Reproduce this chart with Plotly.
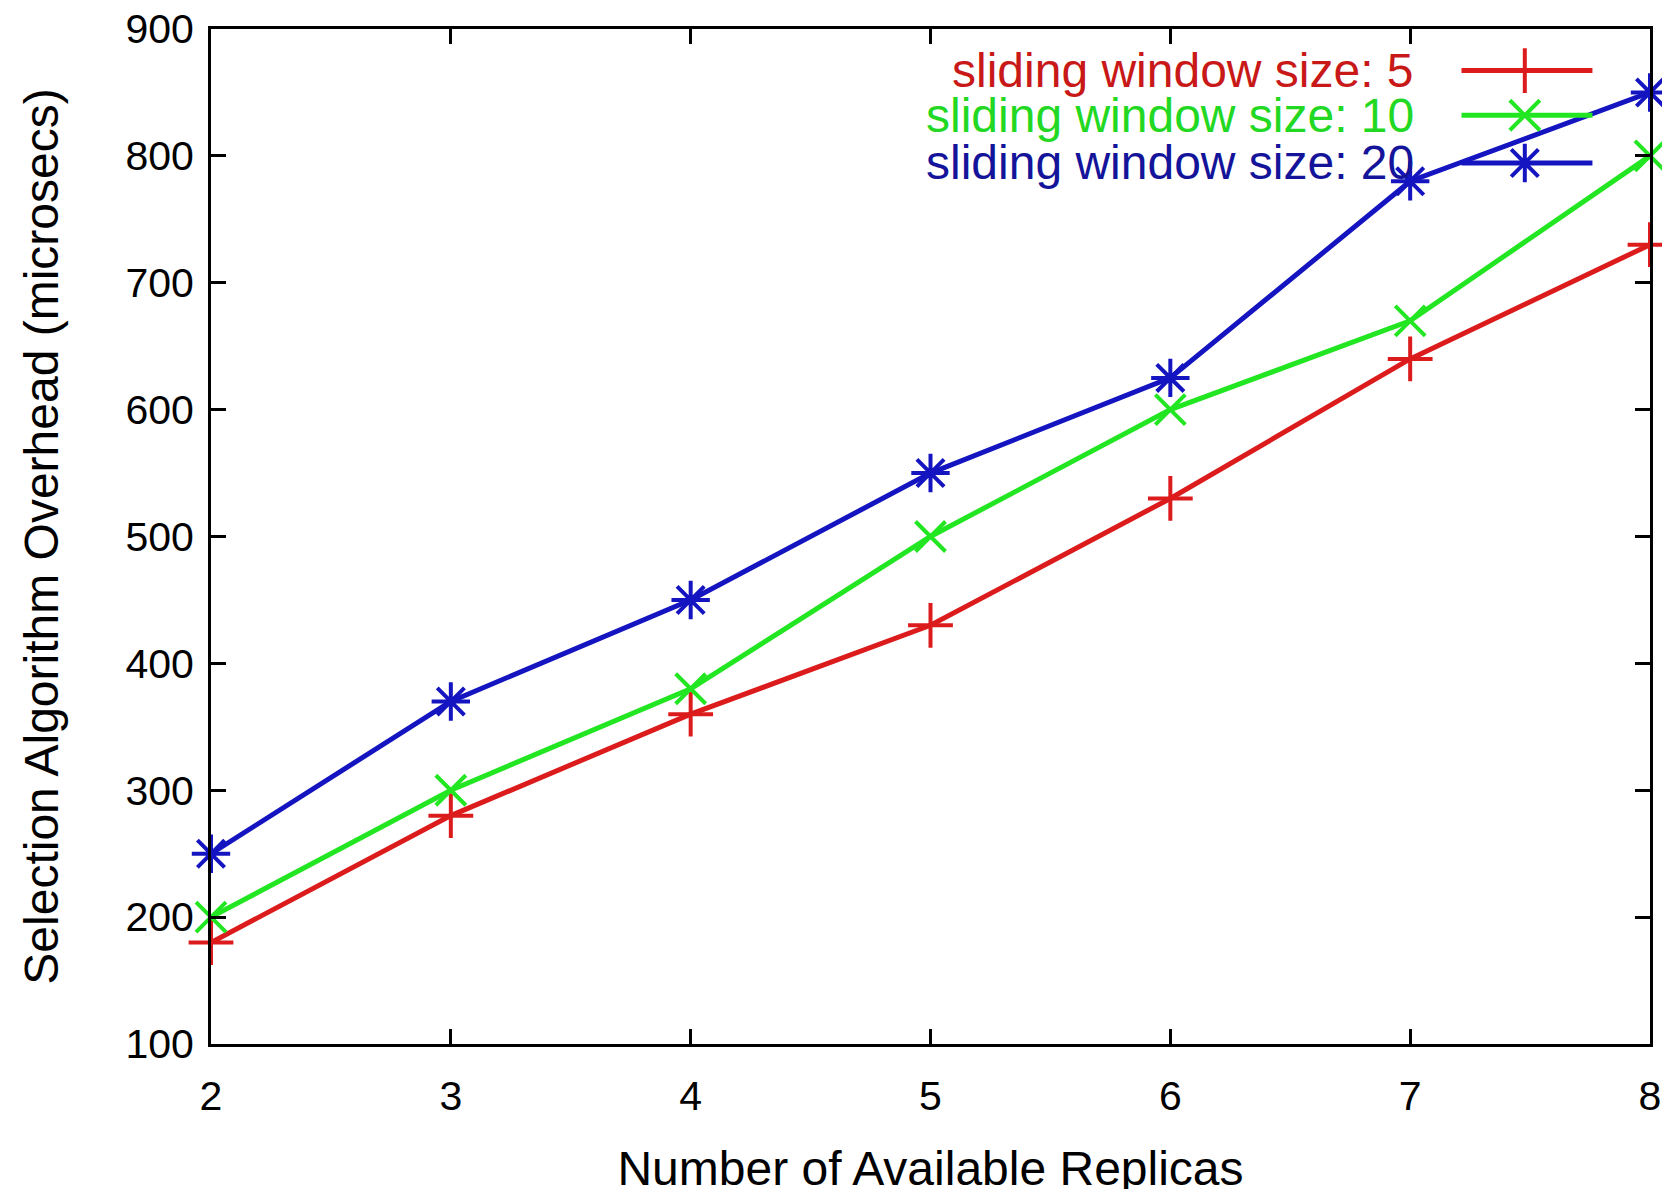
import plotly.graph_objects as go

replicas = [2, 3, 4, 5, 6, 7, 8]
win5 = [180, 280, 360, 430, 530, 640, 730]
win10 = [200, 300, 380, 500, 600, 670, 800]
win20 = [250, 370, 450, 550, 625, 780, 850]
series_names = ["sliding window size: 5", "sliding window size: 10", "sliding window size: 20"]
x_title = "Number of Available Replicas"
y_title = "Selection Algorithm Overhead (microsecs)"

colors = ["#dc1c1c", "#22e622", "#1414c0"]
text_colors = ["#c81818", "#22d822", "#14149a"]
symbols = ["cross-thin", "x-thin", "asterisk"]
msizes = [32, 30, 32]

FONT = "Liberation Sans, Arial, sans-serif"

fig = go.Figure()
for vals, c, s, ms in zip([win5, win10, win20], colors, symbols, msizes):
    fig.add_trace(go.Scatter(
        x=replicas, y=vals, mode="lines+markers",
        line=dict(color=c, width=5),
        marker=dict(symbol=s, size=ms, color=c, line=dict(color=c, width=4)),
        showlegend=False, cliponaxis=False,
    ))

# manual legend (sample on the right of right-aligned text)
leg_rows = [0.959, 0.915, 0.868]
for name, c, tc, s, ms, yr in zip(series_names, colors, text_colors, symbols, msizes, leg_rows):
    fig.add_trace(go.Scatter(
        x=[0.869, 0.960], y=[yr, yr], mode="lines", xaxis="x2", yaxis="y2",
        line=dict(color=c, width=5), showlegend=False, hoverinfo="skip",
    ))
    fig.add_trace(go.Scatter(
        x=[0.913], y=[yr], mode="markers", xaxis="x2", yaxis="y2",
        marker=dict(symbol=s, size=ms, color=c, line=dict(color=c, width=4)),
        showlegend=False, hoverinfo="skip",
    ))
    fig.add_annotation(
        x=0.8376, y=yr, xref="paper", yref="paper", text=name, showarrow=False,
        xanchor="right", yanchor="middle", font=dict(family=FONT, size=48, color=tc),
    )

axis_common = dict(
    showline=True, linecolor="black", linewidth=3, mirror="allticks",
    ticks="inside", ticklen=15, tickwidth=3, tickcolor="black",
    showgrid=False, zeroline=False, automargin=False, ticklabeloverflow="allow",
    tickfont=dict(family=FONT, size=41, color="black"),
)

fig.update_layout(
    width=1670, height=1189,
    margin=dict(l=203, r=28, t=21, b=153),
    paper_bgcolor="white", plot_bgcolor="white",
    xaxis=dict(range=[2, 8], dtick=1, tick0=2, ticklabelstandoff=14,
               title=dict(text=x_title, font=dict(family=FONT, size=48, color="black"), standoff=34),
               **axis_common),
    yaxis=dict(range=[100, 900], dtick=100, tick0=100, ticklabelstandoff=6,
               title=dict(text=y_title, font=dict(family=FONT, size=48, color="black"), standoff=52),
               **axis_common),
    xaxis2=dict(range=[0, 1], overlaying="x", visible=False, fixedrange=True),
    yaxis2=dict(range=[0, 1], overlaying="y", visible=False, fixedrange=True),
)

fig.write_html("out.html")
